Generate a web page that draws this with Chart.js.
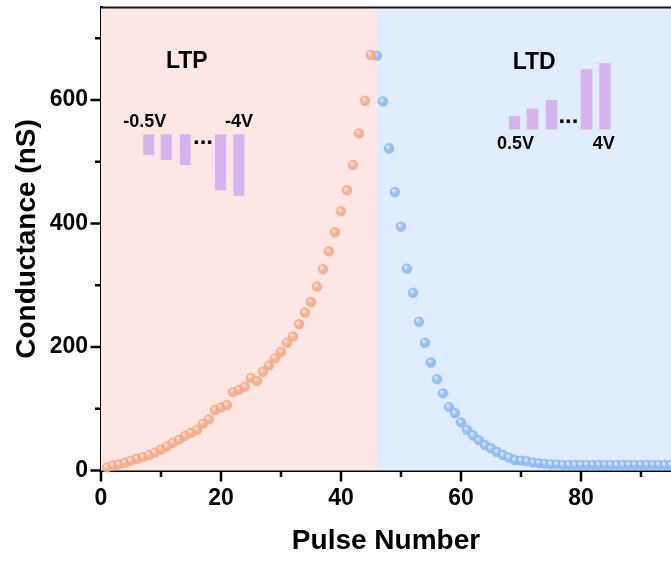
<!DOCTYPE html>
<html>
<head>
<meta charset="utf-8">
<script src="https://cdn.jsdelivr.net/npm/chart.js@4.4.1/dist/chart.umd.min.js"></script>
<style>
html,body{margin:0;padding:0;background:#fff;}
#wrap{width:671px;height:562px;position:relative;}
</style>
</head>
<body>
<div id="wrap"><canvas id="c" width="671" height="562"></canvas></div>
<script>
// ---- data ----
const ltpPulses = [1,2,3,4,5,6,7,8,9,10,11,12,13,14,15,16,17,18,19,20,21,22,23,24,25,26,27,28,29,30,31,32,33,34,35,36,37,38,39,40,41,42,43,44,45];
const ltpConductance = [5,8,10,13,16,19,22,25,29,34,39,45,50,56,61,66,76,83,98,102,106,127,131,136,150,145,160,170,182,192,207,217,237,256,273,298,326,355,386,420,454,495,546,599,673];
const ltdPulses = [46,47,48,49,50,51,52,53,54,55,56,57,58,59,60,61,62,63,64,65,66,67,68,69,70,71,72,73,74,75,76,77,78,79,80,81,82,83,84,85,86,87,88,89,90,91,92,93,94,95];
const ltdConductance = [672,598,522,451,395,327,288,241,207,175,148,125,103,93,78,66,57,49,41,36,30,25,21,17,16,15,13,12,11,10,10,9,9,9,9,9,9,9,9,9,9,9,9,9,9,9,9,9,9,9];
const xTickLabels = [0,20,40,60,80];
const yTickLabels = [0,200,400,600];
const ltpRegion = [0,46];
const ltdRegion = [46,95];

const FONT = 'Arial, "Liberation Sans", Helvetica, sans-serif';

function toPoints(xs, ys){ return xs.map((x,i)=>({x:x, y:ys[i]})); }

function sphere(base, hi){
  return function(ctx){
    const chart = ctx.chart;
    if (!ctx.parsed || !chart.chartArea || !chart.scales.x) return base;
    const px = chart.scales.x.getPixelForValue(ctx.parsed.x);
    const py = chart.scales.y.getPixelForValue(ctx.parsed.y);
    if (!isFinite(px) || !isFinite(py)) return base;
    const g = chart.ctx.createRadialGradient(px-1.6, py-1.8, 0.3, px, py, 5.2);
    g.addColorStop(0, hi);
    g.addColorStop(0.55, base);
    g.addColorStop(1, base);
    return g;
  };
}

function noPad(s){ s.paddingTop = 0; s.paddingBottom = 0; s.paddingLeft = 0; s.paddingRight = 0; }

const bgPlugin = {
  id:'bgRegions',
  beforeDatasetsDraw(chart){
    const {ctx, chartArea:a, scales:{x}} = chart;
    ctx.save();
    const p0 = x.getPixelForValue(ltpRegion[0]), p1 = x.getPixelForValue(ltpRegion[1]);
    const p2 = x.getPixelForValue(ltdRegion[1]);
    ctx.fillStyle = 'rgb(253,230,227)';
    ctx.fillRect(p0, a.top, p1-p0, a.bottom-a.top);
    ctx.fillStyle = 'rgb(223,237,252)';
    ctx.fillRect(p1, a.top, p2-p1, a.bottom-a.top);
    ctx.restore();
  }
};

const insetPlugin = {
  id:'insets',
  afterDatasetsDraw(chart){
    const {ctx, scales:{x,y}} = chart;
    const X = v=>x.getPixelForValue(v), Y = v=>y.getPixelForValue(v);
    ctx.save();
    const bar = 'rgb(214,179,238)';
    ctx.fillStyle = bar;
    const ltpBars = [[7.05,8.85,511],[9.95,11.8,503],[13.15,14.95,495],[19.0,20.85,454],[22.05,23.9,445]];
    ltpBars.forEach(b=>{ const l=X(b[0]), r=X(b[1]), t=Y(544.5), btm=Y(b[2]); ctx.fillRect(l,t,r-l,btm-t); });
    const ltdBars = [[68.0,69.85,574],[70.95,72.9,586],[74.15,76.05,600],[79.95,81.9,650],[83.05,84.95,660]];
    ltdBars.forEach(b=>{ const l=X(b[0]), r=X(b[1]), t=Y(b[2]), btm=Y(552.5); ctx.fillRect(l,t,r-l,btm-t); });
    ctx.fillStyle = '#000';
    ctx.textAlign = 'center'; ctx.textBaseline = 'middle';
    ctx.font = 'bold 24px ' + FONT;
    ctx.fillText('...', X(17.0), Y(540));
    ctx.fillText('...', X(77.9), Y(573));
    ctx.font = 'bold 18px ' + FONT;
    ctx.fillText('-0.5V', X(7.3), Y(564));
    ctx.fillText('-4V', X(23.0), Y(564));
    ctx.fillText('0.5V', X(69.1), Y(529));
    ctx.fillText('4V', X(83.8), Y(529));
    ctx.font = 'bold 23px ' + FONT;
    ctx.fillText('LTP', X(14.3), Y(663));
    ctx.fillText('LTD', X(72.2), Y(660));
    ctx.restore();
  }
};

const tickPlugin = {
  id:'ticksAndFrame',
  afterDraw(chart){
    const {ctx, chartArea:a, scales:{x,y}} = chart;
    ctx.save();
    ctx.strokeStyle = '#000';
    ctx.lineWidth = 2.5;
    ctx.beginPath();
    x.ticks.forEach(t=>{
      const px = x.getPixelForValue(t.value);
      const len = xTickLabels.includes(t.value) ? 10 : 5.5;
      ctx.moveTo(px, a.bottom+1); ctx.lineTo(px, a.bottom+1+len);
    });
    y.ticks.forEach(t=>{
      const py = y.getPixelForValue(t.value);
      const len = yTickLabels.includes(t.value) ? 9.5 : 5;
      ctx.moveTo(a.left-1, py); ctx.lineTo(a.left-1-len, py);
    });
    ctx.stroke();
    ctx.strokeStyle = '#1a1a1a';
    ctx.lineWidth = 2;
    ctx.beginPath();
    ctx.moveTo(a.left, a.top); ctx.lineTo(chart.width, a.top);
    ctx.stroke();
    ctx.restore();
  }
};

new Chart(document.getElementById('c'), {
  type:'scatter',
  data:{
    datasets:[
      {
        label:'LTP',
        data:toPoints(ltpPulses, ltpConductance),
        backgroundColor:sphere('rgba(245,168,132,0.88)','rgba(255,232,215,0.95)'),
        borderWidth:0,
        pointRadius:5.2,
        pointHoverRadius:5.2,
        clip:false
      },
      {
        label:'LTD',
        data:toPoints(ltdPulses, ltdConductance),
        backgroundColor:sphere('rgba(140,183,240,0.88)','rgba(225,238,255,0.95)'),
        borderWidth:0,
        pointRadius:5.2,
        pointHoverRadius:5.2,
        clip:false
      }
    ]
  },
  options:{
    responsive:false,
    animation:false,
    devicePixelRatio:1,
    layout:{autoPadding:false, padding:{top:7.5,right:0,bottom:0,left:0}},
    plugins:{legend:{display:false}, tooltip:{enabled:false}},
    scales:{
      x:{
        type:'linear', min:0, max:95,
        afterFit(s){ s.height = 91.5; noPad(s); },
        border:{display:true, color:'#000', width:3},
        grid:{display:true, drawOnChartArea:false, drawTicks:true, tickLength:8, tickColor:'rgba(0,0,0,0)'},
        ticks:{
          stepSize:10, includeBounds:false, autoSkip:false, maxRotation:0, padding:6,
          color:'#000', font:{family:FONT, size:23, weight:'bold'},
          callback:v=> xTickLabels.includes(v) ? String(v) : ''
        },
        title:{display:true, text:'Pulse Number', color:'#000', font:{family:FONT, size:28, weight:'bold'}, padding:{top:0,bottom:4}}
      },
      y:{
        type:'linear', min:0, max:750,
        afterFit(s){ s.width = 101; noPad(s); },
        border:{display:true, color:'#000', width:3},
        grid:{display:true, drawOnChartArea:false, drawTicks:true, tickLength:8, tickColor:'rgba(0,0,0,0)'},
        ticks:{
          stepSize:100, includeBounds:false, autoSkip:false, padding:5,
          color:'#000', font:{family:FONT, size:23, weight:'bold'},
          callback:v=> yTickLabels.includes(v) ? String(v) : ''
        },
        title:{display:true, text:'Conductance (nS)', color:'#000', font:{family:FONT, size:28, weight:'bold'}, padding:{top:10.5,bottom:0}}
      }
    }
  },
  plugins:[bgPlugin, insetPlugin, tickPlugin]
});
</script>
</body>
</html>
